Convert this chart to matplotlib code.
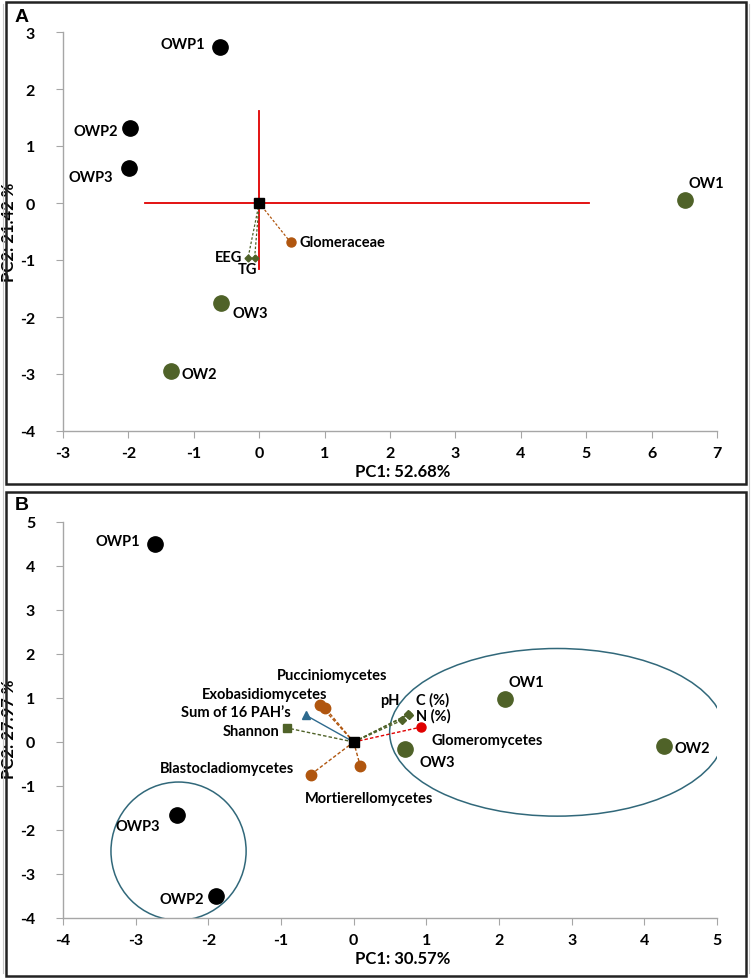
import matplotlib
matplotlib.use('Agg')
import matplotlib.pyplot as plt
from matplotlib.patches import Ellipse, Rectangle
from matplotlib.lines import Line2D

plt.rcParams['font.family'] = ['Lato', 'DejaVu Sans']
plt.rcParams['font.weight'] = 'bold'
plt.rcParams['axes.unicode_minus'] = False
plt.rcParams['ytick.major.pad'] = 15
plt.rcParams['xtick.major.pad'] = 6

GREEN = '#4f6228'
BROWN = '#b0560f'
RED = '#e00000'
BLUE = '#2e6a8e'
RING = '#31687a'

# ---- panel A data
a_names = ['OWP1', 'OWP2', 'OWP3', 'OW1', 'OW2', 'OW3']
a_pc1 = [-0.60, -1.98, -1.99, 6.51, -1.35, -0.59]
a_pc2 = [2.73, 1.32, 0.61, 0.06, -2.95, -1.76]

a_vars = ['Glomeraceae', 'EEG', 'TG']
a_var_pc1 = [0.48, -0.17, -0.07]
a_var_pc2 = [-0.69, -0.96, -0.96]

a_cross_x = [-1.74, 5.05]
a_cross_y = [-1.15, 1.62]

# ---- panel B data
b_names = ['OWP1', 'OWP2', 'OWP3', 'OW1', 'OW2', 'OW3']
b_pc1 = [-2.73, -1.89, -2.43, 2.08, 4.27, 0.70]
b_pc2 = [4.51, -3.51, -1.67, 0.98, -0.10, -0.15]

b_vars = ['Pucciniomycetes', 'Exobasidiomycetes', 'Sum of 16 PAH\u2019s', 'Shannon',
          'pH', 'C (%)', 'N (%)', 'Glomeromycetes', 'Mortierellomycetes',
          'Blastocladiomycetes']
b_var_pc1 = [-0.39, -0.47, -0.66, -0.92, 0.66, 0.75, 0.76, 0.93, 0.09, -0.59]
b_var_pc2 = [0.77, 0.85, 0.61, 0.32, 0.49, 0.63, 0.62, 0.34, -0.54, -0.74]

# group ellipses (center x, center y, width, height)
b_rings = [(2.80, 0.22, 4.61, 3.81), (-2.41, -2.48, 1.86, 3.14)]


def sample_color(n):
    return 'black' if n.startswith('OWP') else GREEN


def style_axes(ax, xlim, ylim):
    ax.set_xlim(*xlim)
    ax.set_ylim(*ylim)
    ax.set_xticks(range(xlim[0], xlim[1] + 1))
    ax.set_yticks(range(ylim[0], ylim[1] + 1))
    for s in ['top', 'right']:
        ax.spines[s].set_visible(False)
    for s in ['left', 'bottom']:
        ax.spines[s].set_color('#a6a6a6')
        ax.spines[s].set_linewidth(1.0)
    ax.tick_params(axis='both', direction='out', length=5, color='#a6a6a6',
                   labelsize=11.5)
    for lab in ax.get_xticklabels() + ax.get_yticklabels():
        lab.set_fontweight('bold')


def label(ax, text, x, y, dx, dy, ha):
    ax.annotate(text, (x, y), xytext=(dx, dy), textcoords='offset pixels',
                ha=ha, va='center', fontsize=10.5, fontweight='bold')


fig = plt.figure(figsize=(7.51, 9.79), dpi=100)

# frames round both panels
fig.add_artist(Rectangle((6 / 751, 1 - 485 / 979), 740 / 751, 482 / 979,
                         transform=fig.transFigure, fill=False, lw=1.8, ec='#222222'))
fig.add_artist(Rectangle((6 / 751, 1 - 977 / 979), 740 / 751, 484 / 979,
                         transform=fig.transFigure, fill=False, lw=1.8, ec='#222222'))
for xx in [2.5 / 751, 749 / 751]:
    fig.add_artist(Line2D([xx, xx], [0.005, 0.995], transform=fig.transFigure,
                          color='#c8c8c8', lw=0.8))

# ---------------- panel A
axA = fig.add_axes([63 / 751, 1 - 432 / 979, 654 / 751, 399 / 979])
style_axes(axA, (-3, 7), (-4, 3))
axA.plot(a_cross_x, [0, 0], color=RED, lw=1.3, zorder=2)
axA.plot([0, 0], a_cross_y, color=RED, lw=1.3, zorder=2)

for i, v in enumerate(a_vars):
    c = BROWN if i == 0 else GREEN
    axA.plot([0, a_var_pc1[i]], [0, a_var_pc2[i]], ls=(0, (2, 1.5)), color=c,
             lw=0.9, zorder=3)
    if i == 0:
        axA.plot(a_var_pc1[i], a_var_pc2[i], 'o', color=BROWN, ms=6.5, zorder=4)
    else:
        axA.plot(a_var_pc1[i], a_var_pc2[i], 'D', color=GREEN, ms=3.5, zorder=4)
axA.plot(0, 0, 's', color='black', ms=6.5, zorder=5)

for i, n in enumerate(a_names):
    axA.plot(a_pc1[i], a_pc2[i], 'o', color=sample_color(n), ms=11, zorder=5)

a_offsets = {'OWP1': (-15, 3, 'right'), 'OWP2': (-12, -3, 'right'),
             'OWP3': (-16, -9, 'right'), 'OW1': (4, 17, 'left'),
             'OW2': (11, -3, 'left'), 'OW3': (12, -10, 'left')}
for i, n in enumerate(a_names):
    dx, dy, ha = a_offsets[n]
    label(axA, n, a_pc1[i], a_pc2[i], dx, dy, ha)
a_var_offsets = [(9, 0, 'left'), (-6, 1, 'right'), (3, -11, 'right')]
for i, v in enumerate(a_vars):
    dx, dy, ha = a_var_offsets[i]
    label(axA, v, a_var_pc1[i], a_var_pc2[i], dx, dy, ha)

axA.set_xlabel('PC1: 52.68%', fontsize=12, fontweight='bold', labelpad=2, x=0.52)
axA.set_ylabel('PC2: 21.42 %', fontsize=12, fontweight='bold')
axA.yaxis.set_label_coords(-46 / 654, 0.5)
fig.text(15 / 751, 1 - 17 / 979, 'A', fontsize=14, fontweight='bold',
         family=['Liberation Sans', 'DejaVu Sans'], va='center', ha='left')

# ---------------- panel B
axB = fig.add_axes([63 / 751, 1 - 919 / 979, 654 / 751, 396 / 979])
style_axes(axB, (-4, 5), (-4, 5))

for cx, cy, w, h in b_rings:
    axB.add_patch(Ellipse((cx, cy), w, h, fill=False, ec=RING, lw=1.1, zorder=1))

b_styles = {
    'Pucciniomycetes': ('o', BROWN, 7.5, '--'),
    'Exobasidiomycetes': ('o', BROWN, 7.5, '--'),
    'Sum of 16 PAH\u2019s': ('^', BLUE, 6, '-'),
    'Shannon': ('s', GREEN, 6, '--'),
    'pH': ('D', GREEN, 4, '--'),
    'C (%)': ('D', GREEN, 4, '--'),
    'N (%)': ('D', GREEN, 4, '--'),
    'Glomeromycetes': ('o', RED, 6.5, '--'),
    'Mortierellomycetes': ('o', BROWN, 7.5, '--'),
    'Blastocladiomycetes': ('o', BROWN, 7.5, '--'),
}
for i, v in enumerate(b_vars):
    m, c, ms, ls = b_styles[v]
    lsx = (0, (2.5, 1.5)) if ls == '--' else '-'
    axB.plot([0, b_var_pc1[i]], [0, b_var_pc2[i]], ls=lsx, color=c, lw=1.0, zorder=3)
    axB.plot(b_var_pc1[i], b_var_pc2[i], m, color=c, ms=ms, zorder=4)
axB.plot(0, 0, 's', color='black', ms=7, zorder=5)

for i, n in enumerate(b_names):
    axB.plot(b_pc1[i], b_pc2[i], 'o', color=sample_color(n), ms=11, zorder=5)

b_offsets = {'OWP1': (-15, 3, 'right'), 'OWP2': (-12, -3, 'right'),
             'OWP3': (-17, -11, 'right'), 'OW1': (4, 17, 'left'),
             'OW2': (11, -2, 'left'), 'OW3': (15, -13, 'left')}
for i, n in enumerate(b_names):
    dx, dy, ha = b_offsets[n]
    label(axB, n, b_pc1[i], b_pc2[i], dx, dy, ha)
b_var_offsets = [(7, 33, 'center'), (8, 11, 'right'), (-15, 3, 'right'),
                 (-7, -3, 'right'), (-2, 20, 'right'), (8, 15, 'left'),
                 (7, -1, 'left'), (10, -13, 'left'), (9, -32, 'center'),
                 (-17, 7, 'right')]
for i, v in enumerate(b_vars):
    dx, dy, ha = b_var_offsets[i]
    label(axB, v, b_var_pc1[i], b_var_pc2[i], dx, dy, ha)

axB.set_xlabel('PC1: 30.57%', fontsize=12, fontweight='bold', labelpad=2, x=0.52)
axB.set_ylabel('PC2: 27.97 %', fontsize=12, fontweight='bold')
axB.yaxis.set_label_coords(-46 / 654, 0.48)
fig.text(15 / 751, 1 - 506 / 979, 'B', fontsize=14, fontweight='bold',
         family=['Liberation Sans', 'DejaVu Sans'], va='center', ha='left')

fig.savefig('out.png', dpi=100)
